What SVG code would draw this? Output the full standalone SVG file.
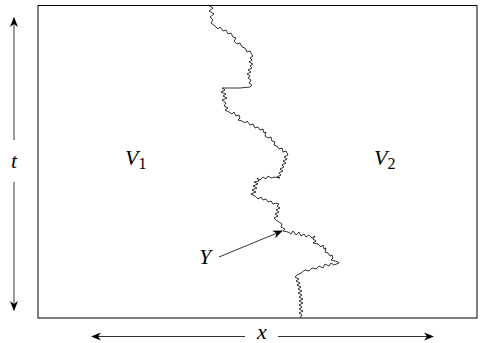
<svg xmlns="http://www.w3.org/2000/svg" width="481" height="343" viewBox="0 0 481 343">
<style>
.lbl{font-family:"Liberation Serif","Times New Roman",serif;font-style:italic;fill:#000}
.sub{font-family:"Liberation Serif","Times New Roman",serif;font-style:normal;fill:#000}
.ax{stroke:#000;stroke-width:0.8;fill:none}
</style>
<defs>
<marker id="ah" viewBox="0 0 10 10" refX="9" refY="5" markerWidth="10" markerHeight="10" markerUnits="userSpaceOnUse" orient="auto-start-reverse">
<path d="M0,1 L10,5 L0,9 L3,5 z" fill="#000"/>
</marker>
</defs>
<g id="region">
<rect x="38" y="5.5" width="439" height="312.5" fill="none" stroke="#000" stroke-width="1"/>
</g>
<g id="path-Y">
<polyline fill="none" stroke="#000" stroke-width="0.8" stroke-linejoin="round" points="208,5 213,8 209,11 214,14 210,17 213,20 211,23 215,26 218,29 220,27 223,31 226,30 228,34 231,33 233,37 236,38 234,41 237,44 240,43 242,47 245,48 247,52 250,51 252,55 253,56 250,58 252,60 249,62 253,64 250,66 252,68 248,70 251,72 247,74 250,76 248,78 251,80 249,83 252,85 250,87 240,88 230,88 222,88 225,90 221,92 226,94 223,96 227,98 222,100 226,103 224,106 228,108 225,110 229,112 232,114 234,112 236,116 239,115 240,118 238,120 242,121 245,123 247,121 250,125 253,124 255,128 258,127 260,130 263,129 264,133 266,132 265,136 268,138 271,137 272,141 275,142 274,145 277,146 279,149 282,148 283,152 286,151 288,155 284,157 287,159 283,161 286,163 282,165 284,167 280,169 283,171 279,173 281,175 277,177 280,178 275,177 271,178 268,176 266,179 263,177 260,180 257,178 259,181 254,182 258,184 253,186 257,188 252,190 256,192 251,194 255,196 258,199 261,197 263,200 266,199 268,202 271,201 273,204 276,203 279,204 277,206 280,208 276,210 279,212 275,214 278,216 274,218 276,220 279,222 282,224 281,227 285,229 283,231 288,232 291,234 293,231 296,235 299,232 301,236 304,234 306,237 309,235 312,238 315,236 313,239 316,241 313,243 318,244 321,247 323,245 324,249 326,248 325,252 328,253 330,256 332,255 333,258 331,260 335,261 338,262 339,263 334,265 331,263 329,266 325,264 323,268 319,266 316,269 312,268 309,271 305,270 301,273 297,275 295,277 299,279 296,281 300,283 297,285 301,287 298,289 302,291 298,293 302,295 299,297 303,299 299,301 303,303 299,305 302,307 299,309 303,311 299,313 302,315 300,318"/>
</g>
<g id="labels">
<text class="lbl" x="14" y="168" font-size="22" text-anchor="middle">t</text>
<text class="lbl" x="125" y="165" font-size="22">V<tspan class="sub" font-size="16" dy="4">1</tspan></text>
<text class="lbl" x="374" y="165" font-size="22">V<tspan class="sub" font-size="16" dy="4">2</tspan></text>
<text class="lbl" x="199" y="264" font-size="22">Y</text>
<text class="lbl" x="262" y="339" font-size="22" text-anchor="middle">x</text>
</g>
<g id="connectors">
<line class="ax" x1="14" y1="140" x2="14" y2="18" marker-end="url(#ah)"/>
<line class="ax" x1="14" y1="182" x2="14" y2="310" marker-end="url(#ah)"/>
<line class="ax" x1="245" y1="336.5" x2="92" y2="336.5" marker-end="url(#ah)"/>
<line class="ax" x1="278" y1="336.5" x2="433" y2="336.5" marker-end="url(#ah)"/>
<line class="ax" x1="219" y1="257" x2="282" y2="231" marker-end="url(#ah)"/>
</g>
</svg>
